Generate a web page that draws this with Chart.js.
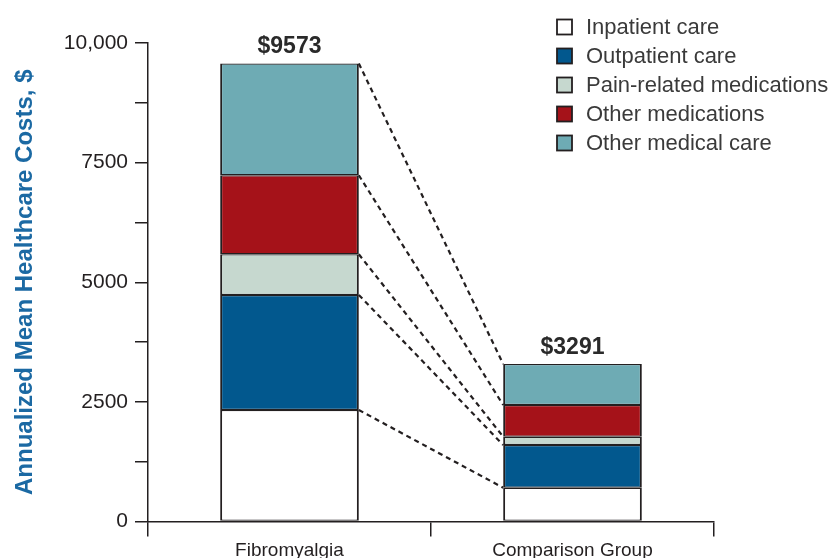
<!DOCTYPE html>
<html>
<head>
<meta charset="utf-8">
<script src="https://cdn.jsdelivr.net/npm/chart.js@4"></script>
<style>
  html, body { margin: 0; padding: 0; background: #fff; }
  #wrap { width: 836px; height: 558px; }
</style>
</head>
<body>
<div id="wrap"><canvas id="costChart" width="836" height="558"></canvas></div>
<script>
// values
const groups = ['Fibromyalgia', 'Comparison Group'];
const inpatient = [2330, 706];
const outpatient = [2404, 893];
const painMeds = [850, 173];
const otherMeds = [1652, 663];
const otherCare = [2337, 856];
const totals = ['$9573', '$3291'];
const yTickLabels = ['0', '', '2500', '', '5000', '', '7500', '', '10,000'];

const ink = '#231f20';
Chart.defaults.font.family = "'Liberation Sans', Arial, sans-serif";

const series = [
    { label: 'Inpatient care', data: inpatient, color: '#ffffff' },
    { label: 'Outpatient care', data: outpatient, color: '#02588e' },
    { label: 'Pain-related medications', data: painMeds, color: '#c6d8cf' },
    { label: 'Other medications', data: otherMeds, color: '#a51219' },
    { label: 'Other medical care', data: otherCare, color: '#6eabb4' }
];

// dashed connectors, totals above bars, legend top right
const extras = {
    id: 'extras',
    afterDatasetsDraw(chart) {
        const ctx = chart.ctx;
        ctx.save();
        ctx.strokeStyle = ink;
        ctx.lineWidth = 2.2;
        ctx.setLineDash([5, 4]);
        chart.data.datasets.forEach((ds, i) => {
            const bars = chart.getDatasetMeta(i).data;
            const a = bars[0], b = bars[1];
            ctx.beginPath();
            ctx.moveTo(a.x + a.width / 2, a.y);
            ctx.lineTo(b.x - b.width / 2, b.y);
            ctx.stroke();
        });
        ctx.setLineDash([]);

        const top = chart.getDatasetMeta(chart.data.datasets.length - 1).data;
        ctx.fillStyle = '#2a2a2a';
        ctx.font = "bold 23px 'Liberation Sans', Arial, sans-serif";
        ctx.textAlign = 'center';
        ctx.textBaseline = 'alphabetic';
        top.forEach((bar, j) => ctx.fillText(totals[j], bar.x, bar.y - 10));

        ctx.textAlign = 'left';
        ctx.textBaseline = 'middle';
        ctx.font = "22px 'Liberation Sans', Arial, sans-serif";
        chart.data.datasets.forEach((ds, i) => {
            const y = 27 + i * 29;
            ctx.fillStyle = ds.backgroundColor;
            ctx.fillRect(557, y - 7.5, 15, 15);
            ctx.lineWidth = 1.8;
            ctx.strokeStyle = ink;
            ctx.strokeRect(557, y - 7.5, 15, 15);
            ctx.fillStyle = '#3a3a3a';
            ctx.fillText(ds.label, 586, y + 1);
        });
        ctx.restore();
    }
};

new Chart(document.getElementById('costChart'), {
    type: 'bar',
    data: {
        labels: groups,
        datasets: series.map(s => ({
            label: s.label,
            data: s.data,
            backgroundColor: s.color,
            borderColor: ink,
            borderWidth: { top: 1.2, bottom: 1.2, left: 2, right: 2 },
            borderSkipped: false,
            categoryPercentage: 0.49,
            barPercentage: 1
        }))
    },
    options: {
        responsive: false,
        animation: false,
        layout: { padding: { left: 0, top: 43, right: 122, bottom: 0 } },
        plugins: { legend: { display: false }, tooltip: { enabled: false } },
        scales: {
            x: {
                stacked: true,
                afterFit: s => { s.height = 36.5; },
                grid: { offset: true, drawOnChartArea: false, tickLength: 15, color: ink, lineWidth: 1.5 },
                border: { display: true, color: ink, width: 1.5 },
                ticks: { color: ink, font: { size: 19 }, padding: 3 }
            },
            y: {
                stacked: true,
                min: 0,
                max: 10000,
                afterFit: s => { s.width = 148; },
                grid: { drawOnChartArea: false, tickLength: 13, color: ink, lineWidth: 1.5 },
                border: { display: true, color: ink, width: 1.5 },
                ticks: {
                    stepSize: 1250,
                    color: ink,
                    font: { size: 21 },
                    padding: 7,
                    callback: (v, i) => yTickLabels[i]
                },
                title: {
                    display: true,
                    text: 'Annualized Mean Healthcare Costs, $',
                    color: '#1b69a3',
                    font: { size: 24, weight: 'bold' },
                    padding: { top: 11, bottom: 0 }
                }
            }
        }
    },
    plugins: [extras]
});
</script>
</body>
</html>
